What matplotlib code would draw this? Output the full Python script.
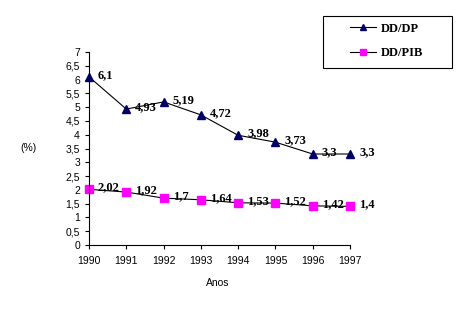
import matplotlib.pyplot as plt
from matplotlib.patches import Rectangle

# data
anos = [1990, 1991, 1992, 1993, 1994, 1995, 1996, 1997]
dd_dp = [6.1, 4.93, 5.19, 4.72, 3.98, 3.73, 3.3, 3.3]
dd_pib = [2.02, 1.92, 1.7, 1.64, 1.53, 1.52, 1.42, 1.4]
y_ticks = [0, 0.5, 1, 1.5, 2, 2.5, 3, 3.5, 4, 4.5, 5, 5.5, 6, 6.5, 7]


def fmt(v):
    return ("%g" % v).replace(".", ",")


fig = plt.figure(figsize=(4.6, 3.23), dpi=100)
ax = fig.add_axes([89 / 460, 78 / 323, 261 / 460, 193 / 323])

ax.plot(anos, dd_dp, color="black", lw=0.8, marker="^", ms=5.5,
        mfc="#000066", mec="#000066", label="DD/DP")
ax.plot(anos, dd_pib, color="black", lw=0.8, marker="s", ms=6,
        mfc="#FF00FF", mec="#FF00FF", label="DD/PIB")

# data labels, bold serif, to the right of each point
for serie in (dd_dp, dd_pib):
    for x, y in zip(anos, serie):
        ax.annotate(fmt(y), (x, y), xytext=(9, 2), textcoords="offset pixels",
                    ha="left", va="center", fontsize=9, fontweight="bold",
                    family="Liberation Serif")

ax.set_xlim(1990, 1997)
ax.set_ylim(0, 7)
ax.set_xticks(anos)
ax.set_yticks(y_ticks)
ax.set_yticklabels([fmt(t) for t in y_ticks])
ax.tick_params(labelsize=7.5, length=3, width=0.8, direction="out")
ax.tick_params(axis="x", pad=5)
for lab in ax.get_xticklabels() + ax.get_yticklabels():
    lab.set_family("Liberation Sans")

for s in ["top", "right"]:
    ax.spines[s].set_visible(False)
ax.spines["left"].set_linewidth(0.8)
ax.spines["bottom"].set_linewidth(0.8)
for ln in ax.lines:
    ln.set_clip_on(False)

fig.text(20 / 460, 1 - 148 / 323, "(%)", fontsize=7.5, family="Liberation Sans",
         va="center", ha="left")
fig.text(218 / 460, 1 - 283 / 323, "Anos", fontsize=7.5, family="Liberation Sans",
         va="center", ha="center")

# legend box drawn separately, entries placed inside it
fig.patches.append(Rectangle((323 / 460, 1 - 68 / 323), 129 / 460, 52 / 323,
                             transform=fig.transFigure, fill=False,
                             edgecolor="black", lw=0.8))
fig.legend(loc="center left", bbox_to_anchor=(350 / 460, 1 - 41 / 323),
           frameon=False, prop={"family": "Liberation Serif", "weight": "bold", "size": 9},
           handlelength=2.1, handletextpad=0.35, labelspacing=1.0, borderpad=0,
           borderaxespad=0, markerscale=0.8)

fig.savefig("out.png", dpi=100)
